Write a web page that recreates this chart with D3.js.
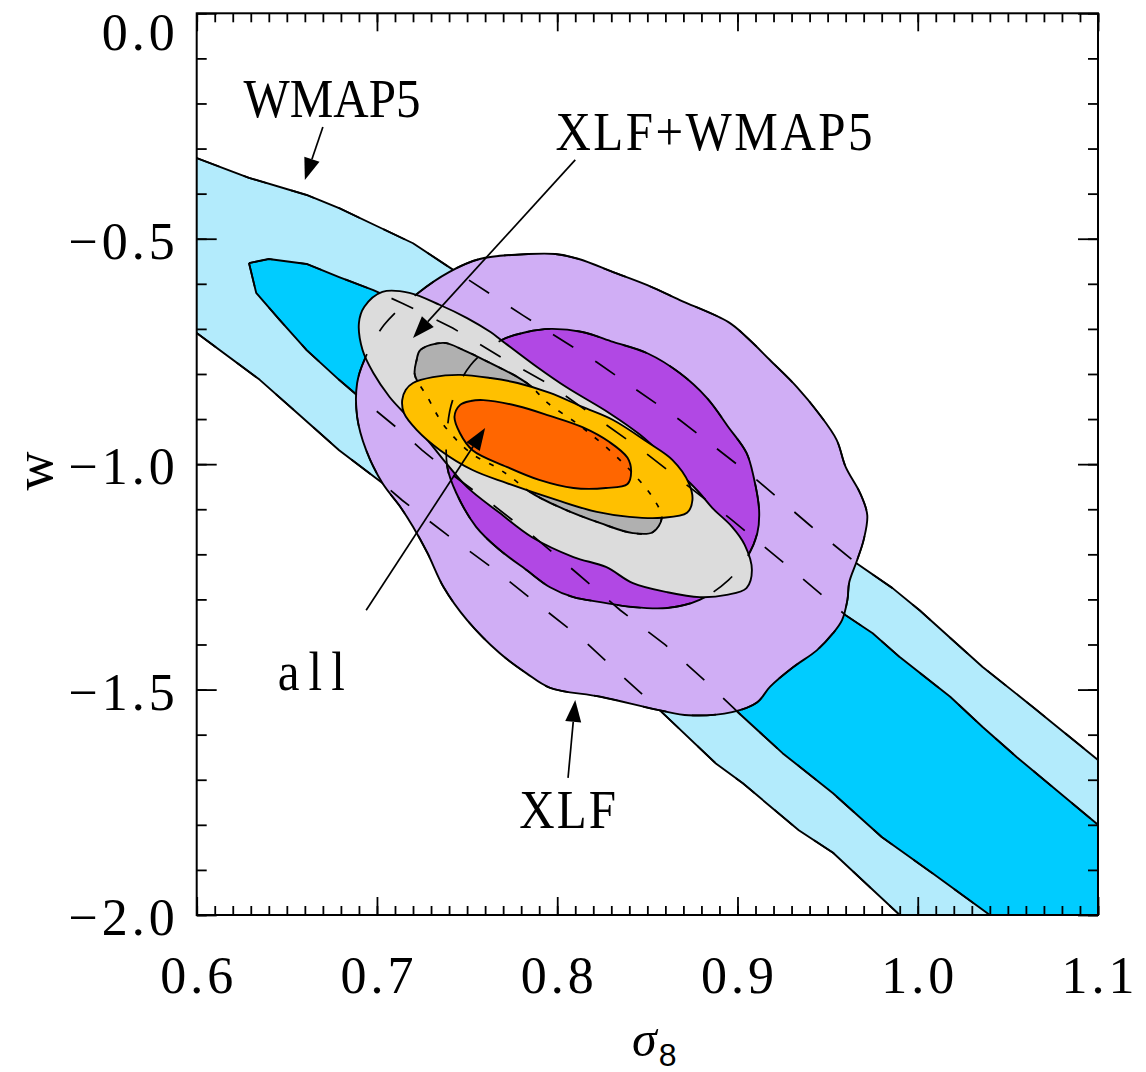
<!DOCTYPE html>
<html>
<head>
<meta charset="utf-8">
<script src="https://cdn.jsdelivr.net/npm/d3@7"></script>
<style>
body { margin: 0; background: #fff; overflow: hidden; }
text { font-family: "Liberation Serif", "Times New Roman", serif; fill: #000; }
</style>
</head>
<body>
<div id="chart"></div>
<script>
const width = 1146;
const height = 1072;

// tick labels
const xTicks = [0.6, 0.7, 0.8, 0.9, 1.0, 1.1];
const xTickLabels = ["0.6", "0.7", "0.8", "0.9", "1.0", "1.1"];
const yTicks = [0, -0.5, -1.0, -1.5, -2.0];
const yTickLabels = ["0.0", "\u22120.5", "\u22121.0", "\u22121.5", "\u22122.0"];

// WMAP5 band edges [sigma8, w]
const wmapOuterUpper = [[0.600,-0.321],[0.629,-0.365],[0.661,-0.403],[0.679,-0.432],[0.701,-0.474],[0.720,-0.510],[0.740,-0.563],[0.781,-0.670],[0.822,-0.774],[0.868,-0.902],[0.909,-1.029],[0.940,-1.135],[0.966,-1.220],[0.986,-1.275],[1.001,-1.324],[1.036,-1.450],[1.064,-1.539],[1.100,-1.656]];
const wmapOuterLower = [[0.600,-0.709],[0.635,-0.813],[0.657,-0.891],[0.679,-0.969],[0.703,-1.042],[0.714,-1.080],[0.739,-1.157],[0.764,-1.230],[0.789,-1.310],[0.814,-1.388],[0.836,-1.470],[0.858,-1.550],[0.888,-1.664],[0.903,-1.708],[0.934,-1.812],[0.953,-1.862],[0.990,-2.000]];
const wmapInnerUpper = [[0.629,-0.554],[0.640,-0.545],[0.661,-0.556],[0.679,-0.585],[0.698,-0.614],[0.714,-0.643],[0.742,-0.698],[0.769,-0.763],[0.796,-0.824],[0.847,-0.969],[0.897,-1.124],[0.929,-1.230],[0.960,-1.335],[0.975,-1.375],[0.990,-1.428],[1.018,-1.516],[1.036,-1.583],[1.055,-1.650],[1.100,-1.800]];
const wmapInnerLower = [[0.629,-0.554],[0.633,-0.620],[0.646,-0.680],[0.661,-0.747],[0.679,-0.813],[0.689,-0.847],[0.714,-0.929],[0.725,-0.969],[0.742,-1.024],[0.763,-1.086],[0.788,-1.164],[0.811,-1.242],[0.835,-1.324],[0.860,-1.401],[0.883,-1.484],[0.901,-1.553],[0.925,-1.641],[0.953,-1.730],[0.980,-1.827],[1.008,-1.907],[1.040,-2.000]];

// XLF contours
const xlfOuter = [[0.784,-0.534],[0.799,-0.534],[0.812,-0.545],[0.831,-0.574],[0.850,-0.603],[0.868,-0.636],[0.895,-0.685],[0.905,-0.718],[0.918,-0.769],[0.933,-0.829],[0.945,-0.887],[0.955,-0.946],[0.960,-1.006],[0.968,-1.064],[0.972,-1.113],[0.970,-1.168],[0.966,-1.217],[0.962,-1.262],[0.961,-1.301],[0.958,-1.346],[0.953,-1.375],[0.944,-1.413],[0.931,-1.450],[0.918,-1.494],[0.911,-1.528],[0.897,-1.550],[0.873,-1.557],[0.857,-1.546],[0.824,-1.516],[0.796,-1.496],[0.783,-1.464],[0.768,-1.419],[0.750,-1.346],[0.737,-1.273],[0.728,-1.197],[0.720,-1.139],[0.713,-1.095],[0.703,-1.042],[0.694,-0.969],[0.689,-0.895],[0.689,-0.820],[0.693,-0.769],[0.704,-0.691],[0.723,-0.620],[0.740,-0.574],[0.757,-0.545]];
const xlfInner = [[0.769,-0.725],[0.783,-0.707],[0.796,-0.700],[0.814,-0.707],[0.831,-0.729],[0.850,-0.754],[0.868,-0.798],[0.883,-0.853],[0.895,-0.918],[0.905,-0.975],[0.909,-1.029],[0.912,-1.102],[0.911,-1.153],[0.905,-1.209],[0.895,-1.257],[0.879,-1.301],[0.861,-1.319],[0.842,-1.317],[0.824,-1.306],[0.809,-1.295],[0.796,-1.273],[0.783,-1.235],[0.768,-1.190],[0.755,-1.139],[0.744,-1.064],[0.739,-1.006],[0.739,-0.924],[0.742,-0.858],[0.752,-0.780]];

// XLF+WMAP5 contours
const comboOuter = [[0.703,-0.618],[0.718,-0.620],[0.735,-0.647],[0.750,-0.676],[0.763,-0.707],[0.769,-0.725],[0.789,-0.785],[0.805,-0.829],[0.829,-0.887],[0.846,-0.935],[0.860,-0.986],[0.871,-1.031],[0.879,-1.064],[0.886,-1.097],[0.897,-1.139],[0.904,-1.179],[0.908,-1.235],[0.905,-1.275],[0.894,-1.290],[0.879,-1.295],[0.861,-1.284],[0.842,-1.264],[0.827,-1.228],[0.809,-1.206],[0.786,-1.162],[0.768,-1.108],[0.750,-1.051],[0.737,-0.991],[0.728,-0.946],[0.717,-0.895],[0.707,-0.851],[0.698,-0.798],[0.692,-0.747],[0.690,-0.687],[0.693,-0.651]];
const comboInner = [[0.724,-0.747],[0.737,-0.731],[0.748,-0.747],[0.763,-0.776],[0.778,-0.807],[0.786,-0.829],[0.794,-0.862],[0.812,-0.913],[0.829,-0.969],[0.844,-1.029],[0.854,-1.080],[0.858,-1.119],[0.853,-1.151],[0.842,-1.153],[0.824,-1.131],[0.801,-1.095],[0.785,-1.062],[0.775,-1.031],[0.767,-1.009],[0.752,-0.975],[0.737,-0.913],[0.728,-0.851],[0.721,-0.802],[0.722,-0.769]];

// all contours
const allOuter = [[0.714,-0.858],[0.716,-0.835],[0.720,-0.820],[0.731,-0.807],[0.746,-0.802],[0.763,-0.809],[0.778,-0.820],[0.796,-0.842],[0.814,-0.873],[0.831,-0.902],[0.850,-0.951],[0.864,-0.991],[0.873,-1.042],[0.875,-1.080],[0.872,-1.108],[0.858,-1.119],[0.840,-1.117],[0.822,-1.106],[0.800,-1.080],[0.772,-1.042],[0.753,-1.013],[0.735,-0.969],[0.722,-0.924],[0.715,-0.887]];
const allInner = [[0.746,-0.869],[0.752,-0.860],[0.759,-0.858],[0.778,-0.871],[0.796,-0.893],[0.814,-0.918],[0.829,-0.951],[0.839,-0.986],[0.841,-1.017],[0.839,-1.044],[0.827,-1.053],[0.809,-1.053],[0.790,-1.035],[0.772,-1.006],[0.753,-0.969],[0.746,-0.931],[0.743,-0.895]];

// annotations: label text, label anchor, arrow start, arrow tip
const labelText = ["WMAP5", "XLF+WMAP5", "all", "XLF"];
const labelPos = [[0.626,-0.230], [0.799,-0.303], [0.645,-1.501], [0.779,-1.807]];
const arrowFrom = [[0.670,-0.252], [0.810,-0.325], [0.694,-1.324], [0.806,-1.696]];
const arrowTo = [[0.660,-0.370], [0.720,-0.720], [0.760,-0.920], [0.810,-1.523]];

const x = d3.scaleLinear().domain([0.6, 1.1]).range([196.7, 1098]);
const y = d3.scaleLinear().domain([0, -2]).range([13.3, 915]);

const svg = d3.select("#chart")
  .append("svg")
  .attr("width", width)
  .attr("height", height)
  .style("display", "block");

svg.append("defs").append("clipPath")
  .attr("id", "plotclip")
  .append("rect")
  .attr("x", x(0.6))
  .attr("y", y(0))
  .attr("width", x(1.1) - x(0.6))
  .attr("height", y(-2) - y(0));

const plot = svg.append("g").attr("clip-path", "url(#plotclip)");

const edge = d3.line().x(d => x(d[0])).y(d => y(d[1]));
const closed = d3.line().x(d => x(d[0])).y(d => y(d[1])).curve(d3.curveCatmullRomClosed.alpha(0.5));
const corner = [x.domain()[1], y.domain()[1]];

function band(upper, lower, fill) {
  plot.append("path")
    .attr("d", edge(upper.concat([corner], lower.slice().reverse())) + "Z")
    .attr("fill", fill);
  [upper, lower].forEach(e => {
    plot.append("path")
      .attr("d", edge(e))
      .attr("fill", "none")
      .attr("stroke", "#000")
      .attr("stroke-width", 1.9)
      .attr("stroke-linejoin", "round");
  });
}

function contour(pts, fill) {
  plot.append("path")
    .attr("d", closed(pts))
    .attr("fill", fill)
    .attr("stroke", "#000")
    .attr("stroke-width", 1.9)
    .attr("stroke-linejoin", "round");
}

band(wmapOuterUpper, wmapOuterLower, "#b3ebfc");
band(wmapInnerUpper, wmapInnerLower, "#00ccff");
contour(xlfOuter, "#d0aef5");
contour(xlfInner, "#b148e4");
contour(comboOuter, "#dcdcdc");
contour(comboInner, "#b0b0b0");
contour(allOuter, "#ffc000");
contour(allInner, "#ff6600");

// hidden edges shown dashed on top
const dashed = plot.append("g")
  .attr("fill", "none")
  .attr("stroke", "#000")
  .attr("stroke-width", 1.7);

[wmapOuterUpper, wmapOuterLower, wmapInnerUpper, wmapInnerLower].forEach(e => {
  dashed.append("path").attr("d", edge(e)).attr("stroke-dasharray", "24,26");
});
[xlfOuter, xlfInner].forEach(c => {
  dashed.append("path").attr("d", closed(c)).attr("stroke-dasharray", "24,26");
});
dashed.append("path").attr("d", closed(comboInner)).attr("stroke-dasharray", "5,10");

// axes
const xMinor = d3.range(60, 111).map(d => d / 100);
const yMinor = d3.range(0, 21).map(d => -d / 10);

function ticks(axis, vals, size) {
  return axis.tickValues(vals).tickSize(size).tickSizeOuter(0).tickFormat("");
}

const axes = svg.append("g").attr("class", "axes");

axes.append("g").attr("transform", `translate(0,${y(-2)})`).call(ticks(d3.axisBottom(x), xMinor, -9));
axes.append("g").attr("transform", `translate(0,${y(0)})`).call(ticks(d3.axisTop(x), xMinor, -9));
axes.append("g").attr("transform", `translate(${x(0.6)},0)`).call(ticks(d3.axisLeft(y), yMinor, -10));
axes.append("g").attr("transform", `translate(${x(1.1)},0)`).call(ticks(d3.axisRight(y), yMinor, -10));

axes.append("g").attr("transform", `translate(0,${y(-2)})`).call(ticks(d3.axisBottom(x), xTicks, -18));
axes.append("g").attr("transform", `translate(0,${y(0)})`).call(ticks(d3.axisTop(x), xTicks, -18));
axes.append("g").attr("transform", `translate(${x(0.6)},0)`).call(ticks(d3.axisLeft(y), yTicks, -20));
axes.append("g").attr("transform", `translate(${x(1.1)},0)`).call(ticks(d3.axisRight(y), yTicks, -20));

axes.selectAll(".domain").remove();
axes.selectAll(".tick line").attr("stroke", "#000").attr("stroke-width", 1.8);

svg.append("rect")
  .attr("x", x(0.6))
  .attr("y", y(0))
  .attr("width", x(1.1) - x(0.6))
  .attr("height", y(-2) - y(0))
  .attr("fill", "none")
  .attr("stroke", "#000")
  .attr("stroke-width", 2);

// tick labels
svg.append("g").selectAll("text")
  .data(xTicks)
  .enter().append("text")
  .attr("x", d => x(d) + 2)
  .attr("y", y(-2) + 78)
  .attr("text-anchor", "middle")
  .attr("font-size", 52)
  .attr("letter-spacing", 4)
  .text((d, i) => xTickLabels[i]);

svg.append("g").selectAll("text")
  .data(yTicks)
  .enter().append("text")
  .attr("x", x(0.6) - 18)
  .attr("y", d => d === 0 ? y(d) + 37 : y(d) + 20)
  .attr("text-anchor", "end")
  .attr("font-size", 52)
  .attr("letter-spacing", 4)
  .text((d, i) => yTickLabels[i]);

// axis titles
svg.append("text")
  .attr("transform", `translate(52,471) rotate(-90)`)
  .attr("text-anchor", "middle")
  .attr("font-size", 54)
  .text("w");

const xt = svg.append("text")
  .attr("x", 632)
  .attr("y", 1056)
  .attr("font-size", 50);
xt.append("tspan").attr("font-style", "italic").text("\u03c3");
xt.append("tspan")
  .attr("dx", 2)
  .attr("dy", 10)
  .attr("font-family", "Liberation Sans, Arial, sans-serif")
  .attr("font-size", 32)
  .text("8");

// annotations
const notes = svg.append("g");
const labelSpacing = [0, 2.5, 9, 2];
labelText.forEach((t, i) => {
  const lx = x(labelPos[i][0]), ly = y(labelPos[i][1]);
  notes.append("text")
    .attr("transform", `translate(${lx},${ly}) scale(1,1.14)`)
    .attr("font-size", 49)
    .attr("letter-spacing", labelSpacing[i])
    .text(t);

  const x0 = x(arrowFrom[i][0]), y0 = y(arrowFrom[i][1]);
  const x1 = x(arrowTo[i][0]), y1 = y(arrowTo[i][1]);
  const len = Math.hypot(x1 - x0, y1 - y0);
  const ux = (x1 - x0) / len, uy = (y1 - y0) / len;
  const hl = 22, hw = 8;
  const bx = x1 - ux * hl, by = y1 - uy * hl;
  notes.append("line")
    .attr("x1", x0).attr("y1", y0)
    .attr("x2", bx).attr("y2", by)
    .attr("stroke", "#000")
    .attr("stroke-width", 1.7);
  notes.append("path")
    .attr("d", `M${x1},${y1}L${bx - uy * hw},${by + ux * hw}L${bx + uy * hw},${by - ux * hw}Z`)
    .attr("fill", "#000");
});
</script>
</body>
</html>
